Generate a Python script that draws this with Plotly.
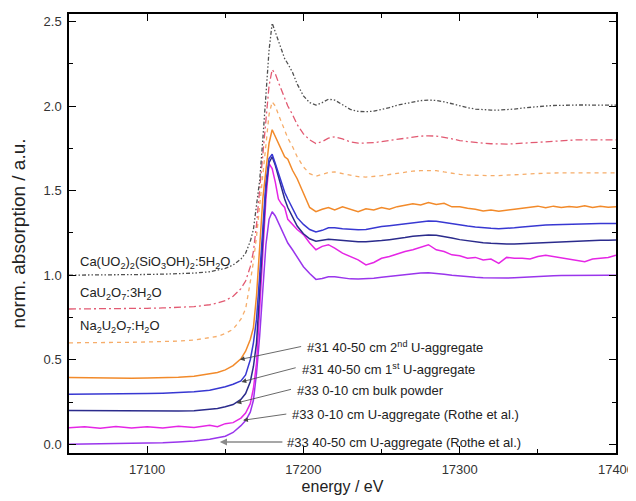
import plotly.graph_objects as go

energy = [17050, 17060, 17070, 17080, 17090, 17100, 17110, 17120, 17130, 17140,
          17145, 17150, 17155, 17160, 17163, 17166, 17168, 17170, 17172, 17174,
          17176, 17178, 17180, 17182, 17184, 17186, 17188, 17190, 17193, 17196,
          17200, 17204, 17208, 17212, 17216, 17220, 17225, 17230, 17235, 17240,
          17245, 17250, 17255, 17260, 17265, 17270, 17275, 17280, 17285, 17290,
          17295, 17300, 17305, 17310, 17315, 17320, 17325, 17330, 17335, 17340,
          17345, 17350, 17355, 17360, 17365, 17370, 17375, 17380, 17385, 17390,
          17395, 17400]

uranophane = [1.000, 1.000, 1.001, 1.002, 1.003, 1.004, 1.006, 1.008, 1.012, 1.020,
              1.028, 1.040, 1.060, 1.095, 1.130, 1.200, 1.270, 1.400, 1.560, 1.800,
              2.050, 2.330, 2.490, 2.440, 2.380, 2.330, 2.280, 2.250, 2.200, 2.130,
              2.060, 2.020, 2.005, 2.020, 2.040, 2.035, 2.005, 1.980, 1.968, 1.966,
              1.970, 1.980, 1.990, 2.005, 2.015, 2.025, 2.032, 2.035, 2.033, 2.025,
              2.012, 2.000, 1.990, 1.982, 1.978, 1.976, 1.976, 1.978, 1.982, 1.988,
              1.993, 1.998, 2.000, 2.003, 2.005, 2.006, 2.006, 2.006, 2.006, 2.005,
              2.005, 2.005]

cau2o7 = [0.800, 0.800, 0.801, 0.802, 0.803, 0.804, 0.806, 0.809, 0.814, 0.825,
          0.835, 0.850, 0.875, 0.920, 0.965, 1.050, 1.140, 1.300, 1.500, 1.700,
          1.920, 2.120, 2.215, 2.190, 2.140, 2.090, 2.040, 2.000, 1.950, 1.890,
          1.835, 1.800, 1.778, 1.790, 1.810, 1.818, 1.805, 1.788, 1.780, 1.780,
          1.783, 1.790, 1.797, 1.805, 1.812, 1.818, 1.822, 1.824, 1.822, 1.815,
          1.805, 1.796, 1.790, 1.784, 1.780, 1.777, 1.775, 1.775, 1.777, 1.780,
          1.784, 1.788, 1.792, 1.795, 1.798, 1.800, 1.800, 1.800, 1.800, 1.800,
          1.800, 1.800]

na2u2o7 = [0.600, 0.600, 0.601, 0.602, 0.603, 0.605, 0.607, 0.610, 0.616, 0.628,
           0.638, 0.655, 0.680, 0.740, 0.800, 0.960, 1.080, 1.230, 1.420, 1.600,
           1.780, 1.950, 2.025, 2.000, 1.950, 1.900, 1.850, 1.810, 1.760, 1.700,
           1.640, 1.600, 1.585, 1.595, 1.607, 1.610, 1.600, 1.588, 1.582, 1.580,
           1.583, 1.588, 1.595, 1.602, 1.610, 1.615, 1.618, 1.620, 1.618, 1.610,
           1.602, 1.596, 1.592, 1.590, 1.588, 1.588, 1.589, 1.592, 1.595, 1.598,
           1.600, 1.602, 1.603, 1.604, 1.605, 1.605, 1.605, 1.605, 1.605, 1.605,
           1.605, 1.605]

s31_2nd = [0.395, 0.393, 0.392, 0.391, 0.391, 0.392, 0.394, 0.397, 0.403, 0.415,
           0.425, 0.440, 0.465, 0.505, 0.550, 0.620, 0.690, 0.880, 1.200, 1.450,
           1.620, 1.780, 1.860, 1.820, 1.770, 1.730, 1.700, 1.685, 1.620, 1.570,
           1.490, 1.400, 1.375, 1.390, 1.400, 1.385, 1.404, 1.390, 1.375, 1.392,
           1.385, 1.400, 1.390, 1.405, 1.412, 1.422, 1.415, 1.430, 1.418, 1.425,
           1.404, 1.405, 1.395, 1.390, 1.380, 1.385, 1.378, 1.386, 1.390, 1.396,
           1.400, 1.408, 1.398, 1.408, 1.400, 1.406, 1.402, 1.410, 1.400, 1.408,
           1.402, 1.405]

s31_1st = [0.296, 0.296, 0.297, 0.298, 0.299, 0.300, 0.302, 0.305, 0.310, 0.320,
           0.328, 0.340, 0.355, 0.375, 0.410, 0.500, 0.600, 0.740, 1.000, 1.300,
           1.550, 1.690, 1.715, 1.660, 1.600, 1.540, 1.490, 1.450, 1.390, 1.340,
           1.300, 1.270, 1.255, 1.265, 1.280, 1.280, 1.275, 1.270, 1.268, 1.270,
           1.280, 1.287, 1.292, 1.297, 1.303, 1.310, 1.315, 1.320, 1.318, 1.310,
           1.302, 1.295, 1.290, 1.285, 1.280, 1.277, 1.275, 1.276, 1.280, 1.285,
           1.290, 1.292, 1.296, 1.298, 1.300, 1.302, 1.304, 1.303, 1.305, 1.306,
           1.305, 1.306]

s33_bulk = [0.200, 0.199, 0.198, 0.197, 0.196, 0.196, 0.196, 0.197, 0.198, 0.205,
            0.212, 0.222, 0.235, 0.265, 0.300, 0.370, 0.460, 0.600, 0.900, 1.240,
            1.510, 1.665, 1.700, 1.650, 1.580, 1.510, 1.450, 1.400, 1.340, 1.290,
            1.245, 1.215, 1.200, 1.205, 1.212, 1.210, 1.205, 1.200, 1.198, 1.198,
            1.200, 1.205, 1.210, 1.215, 1.222, 1.230, 1.235, 1.238, 1.236, 1.230,
            1.220, 1.210, 1.203, 1.197, 1.192, 1.188, 1.185, 1.184, 1.184, 1.186,
            1.190, 1.193, 1.196, 1.198, 1.200, 1.202, 1.204, 1.205, 1.206, 1.207,
            1.207, 1.208]

s33_0_10_rothe = [0.098, 0.104, 0.095, 0.105, 0.097, 0.104, 0.096, 0.106, 0.100, 0.112,
                  0.104, 0.122, 0.128, 0.155, 0.185, 0.240, 0.330, 0.480, 0.800, 1.150,
                  1.450, 1.660, 1.630, 1.550, 1.450, 1.420, 1.400, 1.330, 1.300, 1.270,
                  1.240, 1.190, 1.150, 1.170, 1.180, 1.160, 1.130, 1.110, 1.090, 1.060,
                  1.075, 1.100, 1.110, 1.125, 1.140, 1.150, 1.165, 1.180, 1.150, 1.140,
                  1.120, 1.115, 1.100, 1.105, 1.090, 1.095, 1.070, 1.105, 1.100, 1.100,
                  1.095, 1.110, 1.118, 1.110, 1.100, 1.095, 1.085, 1.080, 1.095, 1.100,
                  1.105, 1.118]

s33_40_50_rothe = [0.000, 0.001, 0.002, 0.003, 0.004, 0.006, 0.009, 0.013, 0.019, 0.030,
                   0.038, 0.048, 0.070, 0.110, 0.140, 0.190, 0.260, 0.420, 0.640, 0.920,
                   1.180, 1.330, 1.375, 1.350, 1.310, 1.270, 1.230, 1.190, 1.150, 1.110,
                   1.050, 1.010, 0.975, 0.980, 0.990, 0.990, 0.983, 0.978, 0.977, 0.978,
                   0.982, 0.987, 0.992, 0.998, 1.004, 1.009, 1.013, 1.014, 1.012, 1.006,
                   1.000, 0.995, 0.990, 0.987, 0.985, 0.983, 0.982, 0.983, 0.985, 0.988,
                   0.990, 0.993, 0.995, 0.997, 0.998, 0.999, 1.000, 1.000, 1.000, 1.000,
                   1.000, 1.000]

series = [
    ("#33 40-50 cm U-aggregate (Rothe et al.)", s33_40_50_rothe, "#9a35ec", "solid", 1.5),
    ("#33 0-10 cm U-aggregate (Rothe et al.)", s33_0_10_rothe, "#e526e5", "solid", 1.5),
    ("#33 0-10 cm bulk powder", s33_bulk, "#2b2b8c", "solid", 1.5),
    ("#31 40-50 cm 1st U-aggregate", s31_1st, "#3838d2", "solid", 1.5),
    ("#31 40-50 cm 2nd U-aggregate", s31_2nd, "#f28a2a", "solid", 1.5),
    ("Na2U2O7:H2O", na2u2o7, "#f6ad6a", "4px,4px", 1.3),
    ("CaU2O7:3H2O", cau2o7, "#e25a72", "7px,3px,2px,3px", 1.3),
    ("Ca(UO2)2(SiO3OH)2:5H2O", uranophane, "#505050", "4px,2px,1.5px,2px,1.5px,2px", 1.3),
]

fig = go.Figure()
for name, vals, color, dash, w in series:
    fig.add_trace(go.Scatter(x=energy, y=vals, mode="lines", name=name,
                             line=dict(color=color, width=w, dash=dash)))

font = "Arial, Liberation Sans, sans-serif"
left_labels = [
    ("Ca(UO<sub>2</sub>)<sub>2</sub>(SiO<sub>3</sub>OH)<sub>2</sub>:5H<sub>2</sub>O", 1.077),
    ("CaU<sub>2</sub>O<sub>7</sub>:3H<sub>2</sub>O", 0.893),
    ("Na<sub>2</sub>U<sub>2</sub>O<sub>7</sub>:H<sub>2</sub>O", 0.698),
]
annotations = []
for txt, yv in left_labels:
    annotations.append(dict(x=17055.5, y=yv, text=txt, showarrow=False, xanchor="left",
                            yanchor="middle", font=dict(family=font, size=13, color="#222")))

right_labels = [
    ("#31 40-50 cm 2<sup>nd</sup> U-aggregate", 17200.8, 0.574, 17159.3, 0.501, 17199.5, 0.580),
    ("#31 40-50 cm 1<sup>st</sup> U-aggregate", 17197.6, 0.448, 17160.4, 0.369, 17196.0, 0.455),
    ("#33 0-10 cm bulk powder", 17194.4, 0.320, 17157.2, 0.244, 17193.0, 0.327),
    ("#33 0-10 cm U-aggregate (Rothe et al.)", 17191.2, 0.178, 17161.4, 0.142, 17190.0, 0.180),
    ("#33 40-50 cm U-aggregate (Rothe et al.)", 17188.0, 0.008, 17146.5, 0.0136, 17187.5, 0.0136),
]
for i, (txt, tx, ty, hx, hy, ax, ay) in enumerate(right_labels):
    annotations.append(dict(x=tx, y=ty, text=txt, showarrow=False, xanchor="left",
                            yanchor="middle", font=dict(family=font, size=13, color="#222")))
    last = i == len(right_labels) - 1
    annotations.append(dict(x=hx, y=hy, ax=ax, ay=ay, axref="x", ayref="y", text="",
                            showarrow=True, arrowhead=2, arrowsize=1.2 if not last else 0.9,
                            arrowwidth=0.8 if not last else 1.6,
                            arrowcolor="#444" if not last else "#8a8a8a"))

axis_common = dict(showline=True, linecolor="black", linewidth=1.5, mirror="ticks",
                   ticks="inside", ticklen=7, tickwidth=1.2, tickcolor="black",
                   showgrid=False, zeroline=False, automargin=False,
                   tickfont=dict(family=font, size=13, color="#333"))

fig.update_layout(
    width=628, height=493,
    margin=dict(l=61, r=20, t=6, b=48),
    paper_bgcolor="white", plot_bgcolor="white",
    showlegend=False,
    annotations=annotations,
    xaxis=dict(range=[17050, 17400], dtick=100, tick0=17000, tickformat="d",
               ticklabelstandoff=4,
               title=dict(text="energy / eV", font=dict(family=font, size=16, color="#222"), standoff=4),
               minor=dict(ticks="inside", dtick=50, ticklen=4, tickcolor="black", tickwidth=1),
               **axis_common),
    yaxis=dict(range=[-0.0515, 2.544], dtick=0.5, tick0=0, tickformat=".1f",
               ticklabelstandoff=3,
               title=dict(text="norm. absorption / a.u.", font=dict(family=font, size=19, color="#222"), standoff=13),
               minor=dict(ticks="inside", dtick=0.25, ticklen=4, tickcolor="black", tickwidth=1),
               **axis_common),
)

fig.write_html("out.html")
